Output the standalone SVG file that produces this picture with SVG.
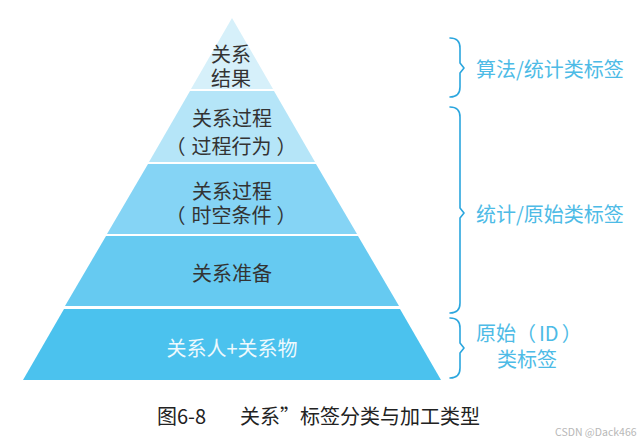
<svg xmlns="http://www.w3.org/2000/svg" width="643" height="439" viewBox="0 0 643 439">
<style>
text{font-family:"Noto Sans CJK SC","Noto Sans",sans-serif;dominant-baseline:central}
.t{font-size:20px;fill:#333;text-anchor:middle}
.w{font-size:20px;fill:#eef9fd;text-anchor:middle}
.l{font-size:20px;fill:#4dbbe6}
.b{fill:none;stroke:#2ba6de;stroke-width:1.6;stroke-linecap:round;stroke-linejoin:round}
</style>
<rect width="643" height="439" fill="#fff"/>
<g id="level5"><polygon points="23,380 441,380 400,309 64,309" fill="#4bc2ee"/><text class="w" x="232" y="347">关系人+关系物</text></g>
<g id="level4"><polygon points="65,306 399,306 358,236 106,236" fill="#66caf1"/><text class="t" x="232" y="272">关系准备</text></g>
<g id="level3"><polygon points="107,234 357,234 316,164 148,164" fill="#85d4f5"/><text class="t" x="232" y="190">关系过程</text><text class="t" x="231" y="214">（<tspan dx="6">时空条件</tspan><tspan dx="5">）</tspan></text></g>
<g id="level2"><polygon points="149,162 315,162 274,91 190,91" fill="#b5e5f8"/><text class="t" x="232" y="117">关系过程</text><text class="t" x="231" y="145">（<tspan dx="6">过程行为</tspan><tspan dx="5">）</tspan></text></g>
<g id="level1"><polygon points="191,89 273,89 232,18" fill="#d6f0fa"/><text class="t" x="231" y="53">关系</text><text class="t" x="231" y="77">结果</text></g>
<g id="connectors">
<path class="b" d="M450,38 Q460,38 460,48 L460,63 L464,68 L460,73 L460,87 Q460,97 450,97"/>
<path class="b" d="M450,107 Q460,107 460,117 L460,208 L464,213 L460,218 L460,303 Q460,313 450,313"/>
<path class="b" d="M450,318 Q460,318 460,328 L460,343 L464,348 L460,353 L460,368 Q460,378 450,378"/>
</g>
<g id="label1"><text class="l" x="476" y="68">算法/统计类标签</text></g>
<g id="label2"><text class="l" x="476" y="213">统计/原始类标签</text></g>
<g id="label3"><text class="l" x="476" y="332">原始（<tspan dx="3">ID</tspan><tspan dx="3">）</tspan></text><text class="l" x="527" y="358" text-anchor="middle">类标签</text></g>
<text x="157" y="415" font-size="20" fill="#222">图6-8</text>
<text x="240" y="415" font-size="20" fill="#222">关系”标签分类与加工类型</text>
<text x="555" y="431" font-size="10.5" fill="#b8b8b8">CSDN @Dack466</text>
</svg>
